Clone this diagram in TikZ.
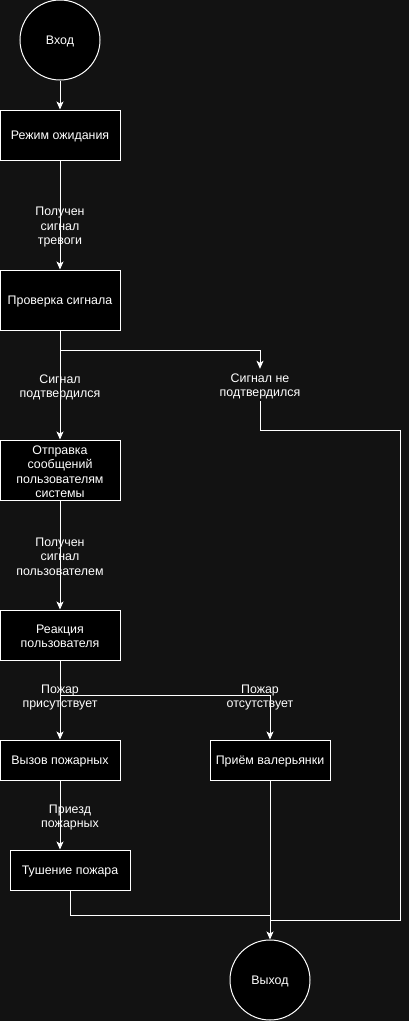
\documentclass[tikz,border=0pt]{standalone}
\usepackage{fontspec}
\setmainfont{Liberation Sans}
\usetikzlibrary{arrows.meta}
\definecolor{bg}{HTML}{121212}
\begin{document}
\begin{tikzpicture}[x=1pt,y=-1pt,
  every node/.style={font=\fontsize{12.4}{14.5}\selectfont, text=white},
  lbl/.style={align=center, inner sep=0pt},
  txt/.style={label={[lbl,yshift=-1.5pt]center:{#1}}},
  boxn/.style={draw=white, fill=black, line width=1pt, minimum width=120pt, inner sep=0pt},
  circn/.style={draw=white, fill=black, line width=1pt, circle, minimum size=80pt, inner sep=0pt},
  conn/.style={draw=white, line width=1pt},
  arr/.style={conn, -{Stealth[length=8pt,width=7pt,inset=2pt]}}]
\fill[bg] (0,0) rectangle (409,1021);
\useasboundingbox (0,0) rectangle (409,1021);
% nodes
\node[circn, txt={Вход}] (in) at (60,40) {};
\node[boxn, minimum height=50pt, txt={Режим ожидания}] (wait) at (60,135) {};
\node[boxn, minimum height=60pt, txt={Проверка сигнала}] (check) at (60,300) {};
\node[boxn, minimum height=60pt, txt={Отправка\\сообщений\\пользователям\\системы}] (send) at (60,470) {};
\node[boxn, minimum height=50pt, txt={Реакция\\пользователя}] (react) at (60,635) {};
\node[boxn, minimum height=40pt, txt={Вызов пожарных}] (call) at (60,760) {};
\node[boxn, minimum height=40pt, txt={Приём валерьянки}] (val) at (270,760) {};
\node[boxn, minimum height=40pt, txt={Тушение пожара}] (fight) at (70,870) {};
\node[circn, txt={Выход}] (out) at (270,980) {};
\node[lbl, minimum height=32pt] (notc) at (260,386.5) {Сигнал не\\подтвердился};
% helper coordinates
\coordinate (b1) at (60,350);
\coordinate (b2) at (60,695);
\coordinate (r1) at (260,430);
\coordinate (r2) at (400,430);
\coordinate (r3) at (400,920);
\coordinate (j1) at (270,920);
\coordinate (f1) at (70,915);
% edges
\draw[arr] (in) -- (wait);
\draw[arr] (wait) -- (check);
\draw[arr] (check) -- (send);
\draw[arr] (b1) -| ([yshift=1.5pt]notc.north);
\draw[conn] ([yshift=1.5pt]notc.south) -- (r1) -- (r2) -- (r3) -- (j1);
\draw[arr] (send) -- (react);
\draw[arr] (react) -- (call);
\draw[arr] (b2) -| (val.north);
\draw[arr] (call.south) -- (call.south |- fight.north);
\draw[conn] (fight.south) -- (f1) -- (f1 -| out.north);
\draw[arr] (val) -- (out);
% labels
\node[lbl] (l1) at (60,227.5) {Получен\\сигнал\\тревоги};
\node[lbl] (l2) at (60,387.5) {Сигнал\\подтвердился};
\node[lbl] (l3) at (60,556.5) {Получен\\сигнал\\пользователем};
\node[lbl] (l4) at (60,697.5) {Пожар\\присутствует};
\node[lbl] (l5) at (260,697.5) {Пожар\\отсутствует};
\node[lbl] (l6) at (70,817.5) {Приезд\\пожарных};
\end{tikzpicture}
\end{document}
